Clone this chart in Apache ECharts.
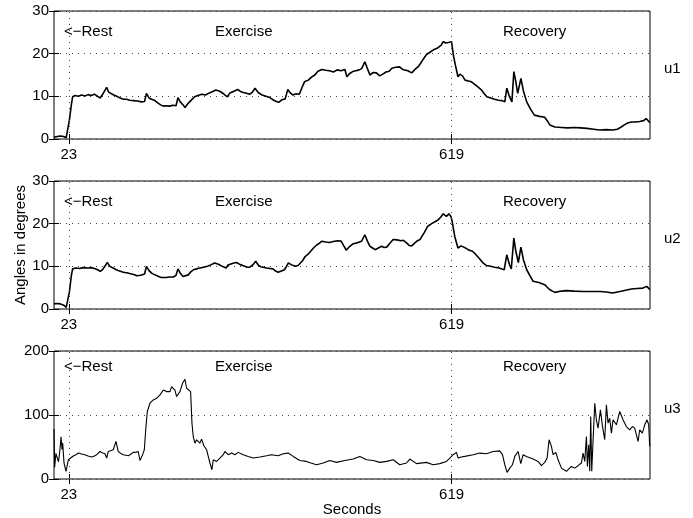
<!DOCTYPE html>
<html>
<head>
<meta charset="utf-8">
<script src="https://cdn.jsdelivr.net/npm/echarts@6/dist/echarts.min.js"></script>
<style>html,body{margin:0;padding:0;background:#fff;}#c{width:693px;height:518px;}</style>
</head>
<body>
<div id="c"></div>
<script>
// ---- data ----
const xTicks = [23, 619];
const panelNames = ['u1', 'u2', 'u3'];
const phaseLabels = ['<\u2212Rest', 'Exercise', 'Recovery'];
const yMax = [30, 30, 200];
const yStep = [10, 10, 100];

const u1T = [0,5,10,15,19,22,24,27,29,33,38,43,48,53,58,63,68,72,75,78,82,85,88,93,98,103,108,113,118,124,130,136,141,144,148,152,157,162,166,170,175,180,185,190,193,197,201,204,208,213,219,224,230,236,242,248,252,258,264,270,274,280,286,292,298,305,309,313,318,324,330,336,341,346,350,355,360,364,368,372,377,382,386,390,396,401,406,411,417,423,429,435,441,447,453,456,460,465,470,475,479,484,488,492,497,502,507,512,517,522,526,532,538,543,546,551,557,562,568,574,580,586,592,598,603,606,610,614,617,619,622,625,629,632,636,640,645,650,655,660,665,670,674,680,686,692,698,702,705,709,713,716,719,722,727,731,736,742,748,756,764,768,772,780,790,800,810,820,830,840,850,860,870,877,882,888,894,900,906,912,918,922,925,928];
const u1V = [0.4,0.6,0.7,0.6,0.3,0.0,4.5,8.0,9.9,10.2,10.0,10.3,10.1,10.4,10.2,10.5,10.0,9.6,10.3,10.0,12.1,11.0,10.6,10.3,10.0,9.6,9.3,9.3,9.1,9.0,8.9,8.7,8.8,10.7,9.6,9.3,9.0,8.4,8.0,7.7,7.8,7.7,7.9,7.8,9.7,8.6,8.0,7.4,8.2,9.0,9.9,10.2,10.5,10.3,10.8,11.2,11.5,11.2,10.6,9.9,10.8,11.2,11.6,11.0,10.8,10.5,11.0,11.9,10.9,10.3,10.0,9.7,9.2,8.8,8.6,9.2,9.4,11.6,10.8,10.3,10.6,10.5,12.0,13.4,13.8,14.5,15.0,15.9,16.3,16.1,16.0,15.7,16.2,16.0,16.3,14.6,15.3,15.8,16.0,16.2,16.5,18.1,16.5,15.0,15.6,15.5,14.8,15.2,15.7,15.9,16.6,16.8,16.9,16.3,16.6,16.0,15.5,16.3,17.1,18.5,19.8,20.4,21.0,21.4,22.0,22.8,22.5,22.6,23.0,22.8,19.5,17.3,14.6,15.2,14.8,13.8,13.6,13.4,12.8,12.2,11.6,10.6,9.9,9.6,9.3,9.1,9.0,8.7,11.9,10.0,8.7,15.8,13.5,10.7,14.2,11.2,8.7,7.0,5.6,5.3,5.1,4.3,3.3,2.8,2.7,2.6,2.7,2.6,2.5,2.3,2.1,2.2,2.1,2.3,2.7,3.3,3.8,4.0,4.0,4.1,4.3,4.8,4.4,3.8];

const u2T = [0,5,10,15,19,22,24,27,29,34,40,45,48,53,58,63,68,72,76,79,83,87,92,97,102,108,113,118,124,129,135,141,144,148,152,157,162,167,170,175,180,186,190,193,197,201,204,209,213,217,222,227,233,239,245,250,256,262,268,271,274,280,284,290,296,301,305,310,314,318,322,326,331,336,341,345,349,354,359,362,365,369,372,376,380,383,387,391,396,400,404,409,413,417,423,429,435,441,447,450,455,460,466,472,479,484,488,492,496,500,505,510,514,518,523,528,534,540,544,549,553,557,562,566,570,576,582,588,594,598,602,606,611,615,618,620,624,629,634,638,642,646,651,656,663,668,673,680,686,693,701,705,709,712,716,719,723,727,731,736,741,746,755,764,768,772,780,790,798,810,824,836,850,860,870,881,890,899,908,917,923,928];
const u2V = [1.2,1.3,1.2,0.9,0.4,0.0,4.0,7.8,9.4,9.6,9.5,9.7,9.8,9.6,9.7,9.5,9.2,8.8,9.3,9.2,10.9,10.0,9.6,9.2,8.9,8.6,8.5,8.3,8.1,7.8,7.9,8.2,10.0,9.0,8.4,8.0,7.7,7.4,7.3,7.4,7.5,7.5,7.9,9.4,8.3,7.6,7.3,8.0,8.7,9.2,9.4,9.6,9.8,10.0,10.4,10.8,10.5,10.0,9.6,10.3,10.6,10.8,10.9,10.4,10.1,9.8,9.8,10.4,11.2,10.3,9.9,9.8,9.6,9.5,9.4,8.9,8.6,8.9,9.2,9.6,10.8,10.4,10.0,10.0,10.2,10.4,11.3,12.3,12.9,13.6,14.3,15.0,15.4,15.9,15.7,15.6,15.8,16.0,15.9,16.1,13.8,14.6,15.3,15.5,15.9,17.4,15.9,14.7,14.3,13.9,14.3,14.7,14.4,14.5,15.4,16.3,16.2,16.0,16.1,15.5,14.9,14.8,15.5,16.0,16.3,17.8,19.4,20.0,20.5,20.9,21.5,22.3,21.7,22.3,21.7,20.5,17.0,14.3,14.8,14.5,14.2,13.8,13.6,12.9,11.7,10.8,10.2,10.0,9.8,9.6,9.2,12.7,10.5,9.4,16.6,13.6,10.9,14.5,11.5,9.2,7.8,6.5,6.2,5.7,5.1,4.5,3.9,4.2,4.3,4.2,4.1,4.1,4.1,4.0,3.75,4.1,4.4,4.7,4.8,4.9,5.3,4.5];

const u3T = [0,1,3,5,7,9,11,12.5,13.5,15.6,18.7,21.3,22.3,25,30,34,38,43,48,53,58.6,63,66.4,71.6,75,79.4,82,84.6,88,92.3,96.5,100,104,108,112,115.7,120,123.5,128,131.2,133.8,138,140.6,143.2,145.3,149.4,154.6,159.8,165,170.2,175.3,180.5,183.1,185.7,188.3,190.9,196.1,200.2,203.9,206.5,209.1,212.7,214.8,216.8,219.4,222,224.6,227.2,229.8,233.4,237.6,240.2,242.8,245.9,248,250.6,253.2,258.3,263.5,266.1,271.3,276.5,281.7,286.9,294.6,302.4,310.2,320.6,331,338.7,349.1,356.9,364.7,372.5,382.8,393.2,400,408.8,419.1,429.5,439.9,452.9,465.8,476.2,486.6,497,507.3,517.7,528.1,538.4,548.8,554,564.4,580,590.3,600.7,611.1,616.3,621.5,626.6,629.3,634,639.6,652.6,663,673.4,683.7,694.1,698.3,701.9,705.5,709.7,713.8,717.5,722.6,726.8,730.4,735.6,746,753.8,758.9,764.1,767.8,770.9,774.5,777.1,781.3,784.9,790.1,797.9,805.6,810.8,816,821.2,823.8,826.4,829,830.5,832.6,834.2,835.7,837.3,839.4,842,844.5,847.1,850.8,853.9,857.5,860.1,862.7,865.3,867.9,870.5,875.7,880.9,886,891.2,896.4,900.6,904.2,909.4,912,916.1,919.8,923.4,926,927.5];
const u3V = [78,18,40,38,27,43,66,46,56,25,12,10,30,32.7,36,38,40.5,39,38,36,34.3,36,38,43,41,39.5,32.7,43,44,45.7,58.7,43,40,38,37,36.4,39,41.6,42,43,29,38,45.7,82,105.5,118.4,123.6,126,131.4,139,136.6,136.6,144.4,141.8,139,128.8,136.6,149.6,155.8,141.8,141.8,136.6,87.3,66.5,56,61.3,64,56,62.3,52,45.7,35.3,25,14.5,30,32.7,27.5,32.7,38,43,38,40.5,38,41.6,38,35.3,32.7,34.3,36.4,38,36.4,39.5,40.5,35.3,29,27.5,25,22.3,25,29,26,29,31.2,35.3,30,29,26,27.5,30,22.3,25,31.2,24,26,22.3,24,27.5,32.7,38,41.6,32.7,34.3,35.3,38,40.5,39.5,43,44,38,22.3,10.4,17,22.3,35.3,43,24,38,35.3,31.2,27.5,20.8,26,32.7,61.3,51,38,41.6,30,17,12,19.7,17,20.8,25,40.5,27.5,66.5,19.7,53.5,12,97.7,12,61.3,118.4,92.5,79.5,108,83,61.3,115.8,87.3,95,71.7,92.5,84.7,105.5,92.5,82,76.9,82,79.5,58.7,76.9,71.7,84.7,92.5,84.7,51];

// ---- chart ----
const seriesT = [u1T, u2T, u3T];
const seriesV = [u1V, u2V, u3V];
const lineW = [1.6, 1.6, 1.1];
const FONT = "'Liberation Sans', Arial, Helvetica, sans-serif";
const FS = 15;
const gridTops = [11, 181, 351];
const GH = 128;

const grids = [], xAxes = [], yAxes = [], series = [], graphics = [];
for (let i = 0; i < 3; i++) {
  grids.push({left: 54, width: 596, top: gridTops[i], height: GH, show: true,
    borderColor: '#000', borderWidth: 1, backgroundColor: 'transparent'});
  const tick = {show: true, inside: true, length: 5, customValues: xTicks, lineStyle: {color: '#000', width: 1}};
  xAxes.push({gridIndex: i, type: 'value', min: 0, max: 928, position: 'bottom',
    axisLine: {show: false}, axisTick: tick,
    axisLabel: {customValues: xTicks, margin: 8, color: '#000', fontSize: FS, fontFamily: FONT},
    splitLine: {show: false}});
  xAxes.push({gridIndex: i, type: 'value', min: 0, max: 928, position: 'top',
    axisLine: {show: false}, axisTick: tick, axisLabel: {show: false}, splitLine: {show: false}});
  yAxes.push({gridIndex: i, type: 'value', min: 0, max: yMax[i], interval: yStep[i], position: 'left',
    axisLine: {show: false},
    axisTick: {show: true, inside: true, length: 5, lineStyle: {color: '#000'}},
    axisLabel: {margin: 5, color: '#000', fontSize: FS, fontFamily: FONT},
    splitLine: {show: true, lineStyle: {color: '#444', width: 1, type: [1, 5]}}});
  yAxes.push({gridIndex: i, type: 'value', min: 0, max: yMax[i], interval: yStep[i], position: 'right',
    axisLine: {show: false},
    axisTick: {show: true, inside: true, length: 5, lineStyle: {color: '#000'}},
    axisLabel: {show: false}, splitLine: {show: false}});
  series.push({type: 'line', xAxisIndex: 2 * i, yAxisIndex: 2 * i,
    data: seriesT[i].map((t, k) => [t, seriesV[i][k]]),
    showSymbol: false, symbol: 'none', animation: false,
    lineStyle: {color: '#000', width: lineW[i]},
    markLine: {silent: true, symbol: ['none', 'none'], label: {show: false}, animation: false,
      lineStyle: {color: '#444', width: 1, type: [1, 5]},
      data: xTicks.map(v => ({xAxis: v}))}});
  const labelY = gridTops[i] + (i === 2 ? 17 : 22.5);
  graphics.push({type: 'text', left: 64, top: labelY - 9, style: {text: phaseLabels[0], fill: '#000', font: FS + 'px ' + FONT}});
  graphics.push({type: 'text', left: 215, top: labelY - 9, style: {text: phaseLabels[1], fill: '#000', font: FS + 'px ' + FONT}});
  graphics.push({type: 'text', left: 503, top: labelY - 9, style: {text: phaseLabels[2], fill: '#000', font: FS + 'px ' + FONT}});
  graphics.push({type: 'text', left: 664, top: gridTops[i] + 50, style: {text: panelNames[i], fill: '#000', font: FS + 'px ' + FONT}});
}
graphics.push({type: 'text', x: 21, y: 245, rotation: Math.PI / 2,
  style: {text: 'Angles in degrees', fill: '#000', font: FS + 'px ' + FONT, align: 'center', verticalAlign: 'middle'}});
graphics.push({type: 'text', x: 352, y: 510,
  style: {text: 'Seconds', fill: '#000', font: FS + 'px ' + FONT, align: 'center', verticalAlign: 'middle'}});

const chart = echarts.init(document.getElementById('c'), null, {renderer: 'canvas'});
chart.setOption({animation: false, backgroundColor: '#fff', grid: grids, xAxis: xAxes, yAxis: yAxes, series: series, graphic: graphics});
</script>
</body>
</html>
